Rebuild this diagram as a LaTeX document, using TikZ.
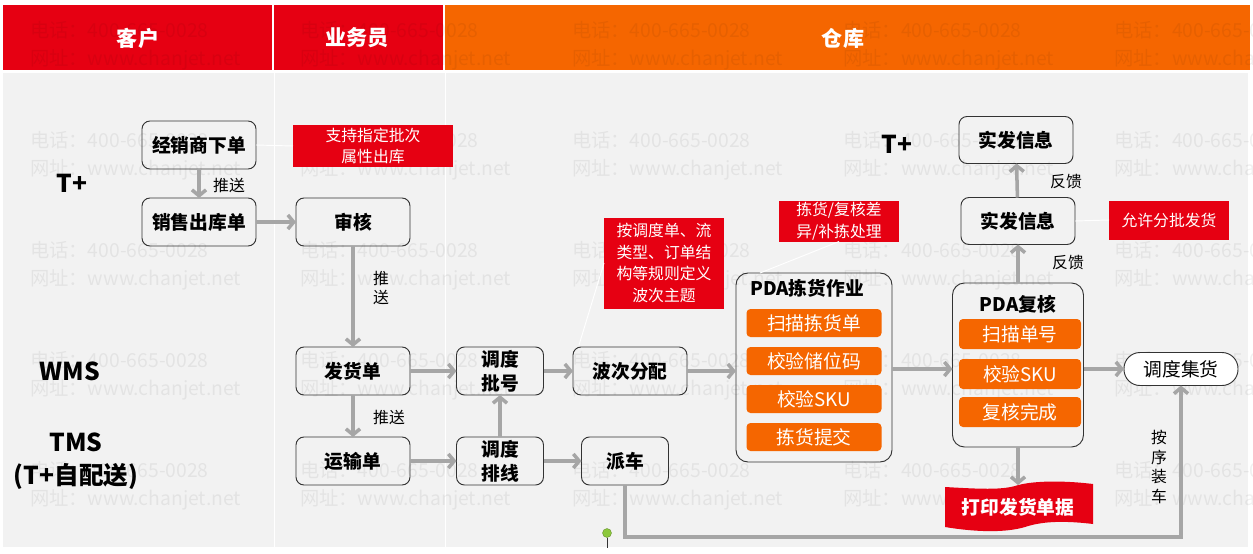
\documentclass[tikz,border=0pt]{standalone}
\usepackage{fontspec}
\setmainfont{Noto Sans CJK SC}
\usetikzlibrary{positioning,calc,arrows.meta}
\definecolor{hdred}{RGB}{230,0,18}
\definecolor{hdorange}{RGB}{245,102,0}
\definecolor{bggray}{RGB}{242,242,242}
\definecolor{arrgray}{RGB}{166,166,166}
\definecolor{boxline}{RGB}{51,51,51}
\definecolor{pingreen}{RGB}{140,200,60}

\begin{document}
\begin{tikzpicture}[x=0.03cm,y=-0.03cm,
		every node/.style={outer sep=0pt},
		box/.style={draw=boxline,line width=0.8pt,rounded corners=0.24cm,minimum width=3.42cm,minimum height=1.44cm,align=center,inner sep=0pt,font=\fontsize{16}{20.5}\selectfont\bfseries},
		sbox/.style={box,minimum width=2.61cm},
		frame/.style={draw=boxline,line width=0.8pt,rounded corners=0.36cm,inner sep=0pt},
		note/.style={fill=hdred,text=white,align=center,inner sep=0pt,font=\fontsize{13.5}{18.5}\selectfont},
		obox/.style={fill=hdorange,text=white,rounded corners=0.12cm,inner sep=0pt,font=\fontsize{16}{18}\selectfont},
		lane/.style={align=center,font=\fontsize{21}{28}\selectfont\bfseries},
		hd/.style={text=white,font=\fontsize{18}{20}\selectfont\bfseries},
		lbl/.style={align=center,inner sep=0pt,font=\fontsize{13.5}{17}\selectfont},
		arr/.style={draw=arrgray,line width=3pt,-{Straight Barb[length=5pt,width=12pt]}},
		link/.style={draw=white,line width=0.8pt},
		wmark/.style={anchor=west,inner sep=0pt,text=black,text opacity=0.06,font=\fontsize{16.5}{18}\selectfont}
		]
		\useasboundingbox (0,0) rectangle (1253,553);
		
		% background and header
		\fill[bggray] (3,73) rectangle (1248,547);
		\draw[white,line width=0.6pt] (274,73) -- (274,547) (445,73) -- (445,547);
		\fill[hdred] (3,5) rectangle (443,70);
		\fill[hdorange] (445,5) rectangle (1250,70);
		\draw[white,line width=1pt] (273,5) -- (273,70);
		
		% watermark
		\foreach \wx in {30,300,572,843,1114}
		\foreach \wy in {30,140,250,360,470}{
			\node[wmark] (wa-\wx-\wy) at (\wx,\wy) {电话：400-665-0028};
			\node[wmark] (wb-\wx-\wy) at (\wx,\wy+30) {网址：www.chanjet.net};
		}
		
		\node[hd] (hcust) at (138,38) {客户};
		\node[hd] (hsales) at (357,38) {业务员};
		\node[hd] (hstore) at (843,38) {仓库};
		
		% lanes
		\node[lane] (tplus) at (72,183) {T+};
		\node[lane] (wms) at (70,371) {WMS};
		\node[lane] (tms) at (76,461) {TMS\\(T+自配送)};
		\node[lane] (tplus2) at (897,144) {T+};
		
		% boxes
		\node[box] (dist) at (199,145) {经销商下单};
		\node[box] (sale) at (199,222) {销售出库单};
		\node[box] (audit) at (353,222) {审核};
		\node[box] (ship) at (353,371) {发货单};
		\node[box] (trans) at (353,461) {运输单};
		\node[sbox] (batch) at (500,371) {调度\\批号};
		\node[sbox] (route) at (500,461) {调度\\排线};
		\node[box] (wave) at (630,371) {波次分配};
		\node[sbox] (car) at (625,461) {派车};
		\node[box,minimum height=1.41cm] (info2) at (1016,140) {实发信息};
		\node[box,minimum height=1.41cm] (info1) at (1018,221) {实发信息};
		\node[box,fill=white,rounded corners=0.48cm,minimum height=0.99cm] (gather) at (1181,369) {\mdseries 调度集货};
		
		% notes
		\node[note,minimum width=4.8cm,minimum height=1.26cm] (n1) at (373,146) {支持指定批次\\属性出库};
		\node[note,minimum width=3.6cm,minimum height=2.73cm] (n2) at (664,263) {按调度单、流\\类型、订单结\\构等规则定义\\波次主题};
		\node[note,minimum width=3.6cm,minimum height=1.23cm] (n3) at (839,221) {拣货/复核差\\异/补拣处理};
		\node[note,minimum width=3.6cm,minimum height=1.17cm] (n4) at (1169,220) {允许分批发货};
		
		% PDA picking
		\node[frame,minimum width=4.68cm,minimum height=5.67cm] (pick) at (814,367.5) {};
		\node[font=\fontsize{16}{18}\selectfont\bfseries] (picktitle) at (807,288) {PDA拣货作业};
		\node[obox,minimum width=4.05cm,minimum height=0.84cm] (pk1) at (814,323) {扫描拣货单};
		\node[obox,minimum width=4.05cm,minimum height=0.84cm] (pk2) at (814,361) {校验储位码};
		\node[obox,minimum width=4.05cm,minimum height=0.84cm] (pk3) at (814,399) {校验SKU};
		\node[obox,minimum width=4.05cm,minimum height=0.84cm] (pk4) at (814,437) {拣货提交};
		
		% PDA check
		\node[frame,minimum width=3.93cm,minimum height=4.92cm] (check) at (1018,365) {};
		\node[font=\fontsize{16}{18}\selectfont\bfseries] (checktitle) at (1018,304) {PDA复核};
		\node[obox,minimum width=3.66cm,minimum height=0.9cm] (ck1) at (1020,334) {扫描单号};
		\node[obox,minimum width=3.66cm,minimum height=0.9cm] (ck2) at (1020,374) {校验SKU};
		\node[obox,minimum width=3.66cm,minimum height=0.9cm] (ck3) at (1020,412) {复核完成};
		
		% print banner
		\fill[hdred] (945,487) .. controls (980,489) and (1000,490) .. (1015,486) .. controls (1030,481) and (1060,480) .. (1093,484) -- (1093,524) .. controls (1060,520) and (1040,522) .. (1025,527) .. controls (1005,533) and (975,532) .. (945,527) -- cycle;
		\node[text=white,font=\fontsize{16}{18}\selectfont\bfseries] (print) at (1018,507) {打印发货单据};
		\coordinate (bantop) at (1018,485);
		\coordinate (bend) at (1181,537);
		
		% connectors
		\draw[arr] (dist) -- (sale);
		\draw[arr] (sale) -- (audit);
		\draw[arr] (audit) -- (ship);
		\draw[arr] (ship) -- (trans);
		\draw[arr] (ship) -- (batch);
		\draw[arr] (trans) -- (route);
		\draw[arr] (route) -- (batch);
		\draw[arr] (batch) -- (wave);
		\draw[arr] (route) -- (car);
		\draw[arr] (wave.east) -- (wave.east -| pick.west);
		\draw[arr] ($(pick.east)+(0,1.5)$) -- ($(check.west)+(0,4)$);
		\draw[arr] ($(check.east)+(0,4)$) -- (gather.west);
		\draw[arr] (check.north) -- (info1.south);
		\draw[arr] (info1) -- (info2);
		\draw[arr] (check.south) -- (bantop);
		\draw[arr] (car.south) |- (bend) -- (gather.south);
		
		\draw[link] (dist.east) -- (n1.west);
		\draw[link] ($(wave.north west)+(6,-2)$) -- (n2.west);
		\draw[link] ($(pick.north west)+(24,0)$) -- (n3.south);
		\draw[link] (info1.east) -- (n4.west);
		
		% labels
		\node[lbl] (l1) at (229,185) {推送};
		\node[lbl] (l2) at (381,288) {推\\送};
		\node[lbl] (l3) at (389,417) {推送};
		\node[lbl] (l4) at (1066,182) {反馈};
		\node[lbl] (l5) at (1068,263) {反馈};
		\node[lbl,font=\fontsize{13.5}{16.6}\selectfont] (l6) at (1159,467) {按\\序\\装\\车};
		
		\node[circle,fill=pingreen,draw=pingreen!70!black,line width=0.3pt,minimum size=0.27cm,inner sep=0pt] (pin) at (607,533) {};
		\draw[boxline,line width=0.4pt] (pin.south) -- ++(0,10);
	\end{tikzpicture}
\end{document}
